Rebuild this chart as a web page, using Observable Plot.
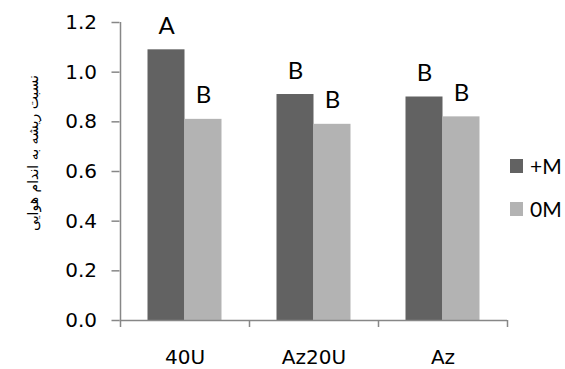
<!DOCTYPE html>
<html>
<head>
<meta charset="utf-8">
<script src="https://cdn.jsdelivr.net/npm/d3@7"></script>
<script src="https://cdn.jsdelivr.net/npm/@observablehq/plot@0.6"></script>
<style>
  html, body { margin: 0; padding: 0; background: #fff; }
  #wrap { position: relative; width: 565px; height: 369px; }
  .legend { position: absolute; left: 510px; top: 0; font-family: Lato, "Open Sans", sans-serif; font-size: 21px; color: #000; }
  .legend .row { position: absolute; display: flex; align-items: center; white-space: nowrap; }
  .legend .sw { width: 13px; height: 14px; margin-right: 7px; }
  .ylabel { position: absolute; left: 33px; top: 153px; transform: translate(-50%, -50%) rotate(-90deg);
    font-family: "DejaVu Sans", sans-serif; font-size: 14px; line-height: 1; white-space: nowrap; direction: rtl; color: #000; }
</style>
</head>
<body>
<div id="wrap"></div>
<script>
const categories = ["40U", "Az20U", "Az"];
const series = ["+M", "0M"];
const valuesPlusM = [1.09, 0.91, 0.90];
const values0M = [0.81, 0.79, 0.82];
const lettersPlusM = ["A", "B", "B"];
const letters0M = ["B", "B", "B"];
const yTicks = [0, 0.2, 0.4, 0.6, 0.8, 1.0, 1.2];
const yLabel = "نسبت ریشه به اندام هوایی";
const colors = {"+M": "#626262", "0M": "#b3b3b3"};

const dataPlus = categories.map((c, i) => ({cat: c, value: valuesPlusM[i], letter: lettersPlusM[i]}));
const data0 = categories.map((c, i) => ({cat: c, value: values0M[i], letter: letters0M[i]}));

const axisColor = "#878787";
const halfStep = 64.5;
const tickFont = "'DejaVu Sans', sans-serif";
const letterFont = "Lato, 'Open Sans', sans-serif";

const chart = Plot.plot({
  width: 565,
  height: 369,
  marginLeft: 119.5,
  marginRight: 58,
  marginTop: 22,
  marginBottom: 49,
  style: {background: "#fff", overflow: "visible"},
  x: {domain: categories, padding: 0},
  y: {domain: [0, 1.2]},
  marks: [
    Plot.barY(dataPlus, {x: "cat", y: "value", fill: colors["+M"], insetLeft: 27.5, insetRight: 64.5}),
    Plot.barY(data0, {x: "cat", y: "value", fill: colors["0M"], insetLeft: 64.5, insetRight: 27.5}),
    Plot.text(dataPlus, {x: "cat", y: "value", text: "letter", dx: -18.5, dy: -16, lineAnchor: "bottom",
      fontSize: 24, fontFamily: letterFont, fill: "#000"}),
    Plot.text(data0, {x: "cat", y: "value", text: "letter", dx: 18.5, dy: -16, lineAnchor: "bottom",
      fontSize: 24, fontFamily: letterFont, fill: "#000"}),
    Plot.ruleY([0], {stroke: axisColor, strokeWidth: 1.5}),
    Plot.ruleX([categories[0]], {x: d => d, y1: 0, y2: 1.2, dx: -halfStep, stroke: axisColor, strokeWidth: 1.5}),
    Plot.axisY({ticks: yTicks, tickFormat: d3.format(".1f"), tickSize: 8, tickPadding: 15,
      stroke: axisColor, strokeWidth: 1.5, fontSize: 20, fontFamily: tickFont, fill: "#000", label: null}),
    Plot.axisX({ticks: categories, tickSize: 7, dx: -halfStep, text: null, stroke: axisColor, strokeWidth: 1.5, label: null}),
    Plot.axisX({ticks: [categories[categories.length - 1]], tickSize: 7, dx: halfStep, text: null, stroke: axisColor, strokeWidth: 1.5, label: null}),
    Plot.axisX({ticks: categories, tickSize: 0, tickPadding: 29, fontSize: 20,
      fontFamily: tickFont, fill: "#000", label: null})
  ]
});

const wrap = document.getElementById("wrap");
wrap.appendChild(chart);

const yl = document.createElement("div");
yl.className = "ylabel";
yl.textContent = yLabel;
wrap.appendChild(yl);

const legend = document.createElement("div");
legend.className = "legend";
const rowTops = [153, 196];
series.forEach((s, i) => {
  const row = document.createElement("div");
  row.className = "row";
  row.style.top = rowTops[i] + "px";
  const sw = document.createElement("div");
  sw.className = "sw";
  sw.style.background = colors[s];
  const label = document.createElement("span");
  label.textContent = s;
  row.appendChild(sw);
  row.appendChild(label);
  legend.appendChild(row);
});
wrap.appendChild(legend);
</script>
</body>
</html>
